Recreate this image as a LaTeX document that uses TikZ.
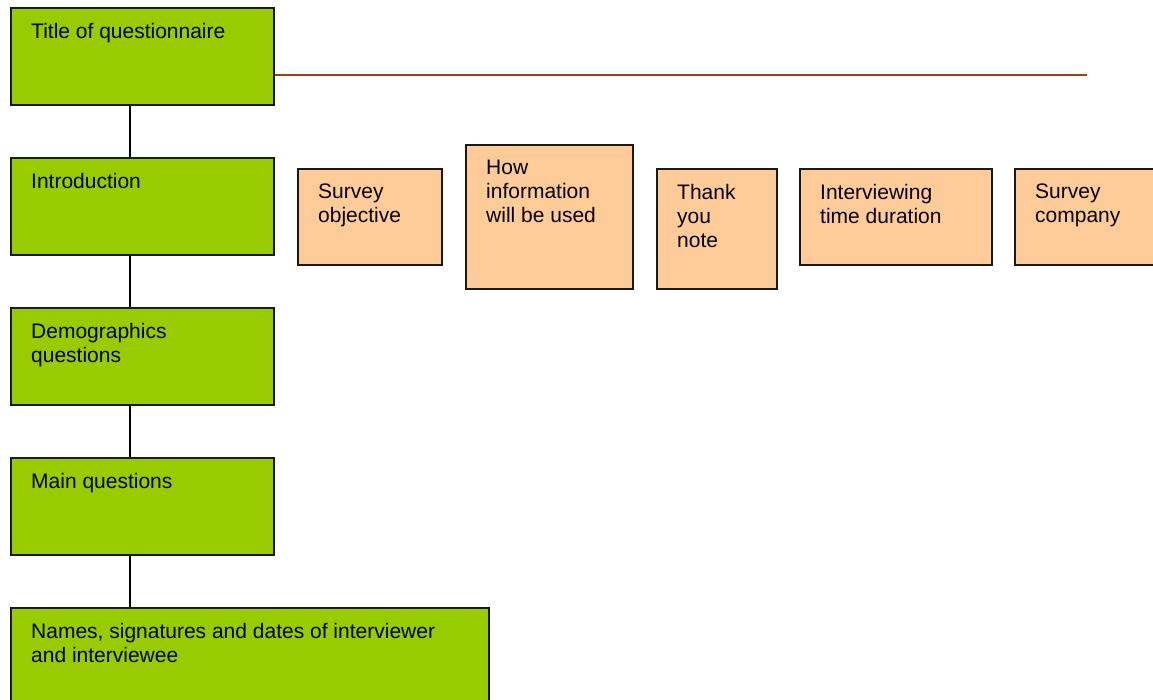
\documentclass[tikz,border=0pt]{standalone}
\usepackage{fontspec}
\setmainfont{Liberation Sans}
\definecolor{stepgreen}{HTML}{99CC00}
\definecolor{notepeach}{HTML}{FFCC99}
\definecolor{rulebrown}{RGB}{165,60,10}
\tikzset{
  boxbase/.style={draw=black!90, line width=1.6pt, anchor=north west, inner sep=0pt},
  greenbox/.style={boxbase, fill=stepgreen, minimum width=263pt, minimum height=97pt},
  peachbox/.style={boxbase, fill=notepeach},
  boxtext/.style={anchor=north west, align=left, inner sep=0pt,
    font=\fontsize{21}{24}\selectfont},
  intext/.style={shift={(21pt,-15.6pt)}}
}
\tikzset{
  link/.style={draw=black, line width=1.4pt}
}
\begin{document}
\begin{tikzpicture}[x=1pt,y=-1pt]
\useasboundingbox (0,0) rectangle (1153,700);
\clip (0,0) rectangle (1153,700);
% main column of sections
\node[greenbox] (title) at (10,7) {};
\node[greenbox] (intro) at (10,157) {};
\node[greenbox] (demo) at (10,307) {};
\node[greenbox] (mainq) at (10,457) {};
\node[greenbox, minimum width=478pt] (names) at (10,607) {};
% parts of the introduction
\node[peachbox, minimum width=144pt, minimum height=96pt] (obj) at (297,168) {};
\node[peachbox, minimum width=167pt, minimum height=144pt] (use) at (465,144) {};
\node[peachbox, minimum width=120pt, minimum height=120pt] (thanks) at (656,168) {};
\node[peachbox, minimum width=192pt, minimum height=96pt] (dur) at (799,168) {};
\node[peachbox, minimum width=160pt, minimum height=96pt] (comp) at (1014,168) {};
% labels
\node[boxtext] (tTitle) at ([intext]title.north west) {Title of questionnaire};
\node[boxtext] (tIntro) at ([intext]intro.north west) {Introduction};
\node[boxtext] (tDemo) at ([intext]demo.north west) {Demographics\\questions};
\node[boxtext] (tMain) at ([intext]mainq.north west) {Main questions};
\node[boxtext] (tNames) at ([intext]names.north west) {Names, signatures and dates of interviewer\\and interviewee};
\node[boxtext] (tObj) at ([intext]obj.north west) {Survey\\objective};
\node[boxtext] (tUse) at ([intext]use.north west) {How\\information\\will be used};
\node[boxtext] (tThanks) at ([intext]thanks.north west) {Thank\\you\\note};
\node[boxtext] (tDur) at ([intext]dur.north west) {Interviewing\\time duration};
\node[boxtext] (tComp) at ([intext]comp.north west) {Survey\\company};
% connectors
\coordinate (ruleend) at (1087,75);
\coordinate (spine) at (130,0);
\draw[link] (spine |- title.south) -- (spine |- intro.north);
\draw[link] (spine |- intro.south) -- (spine |- demo.north);
\draw[link] (spine |- demo.south) -- (spine |- mainq.north);
\draw[link] (spine |- mainq.south) -- (spine |- names.north);
\draw[draw=rulebrown, line width=1.6pt] (title.east |- ruleend) -- (ruleend);
\end{tikzpicture}
\end{document}
